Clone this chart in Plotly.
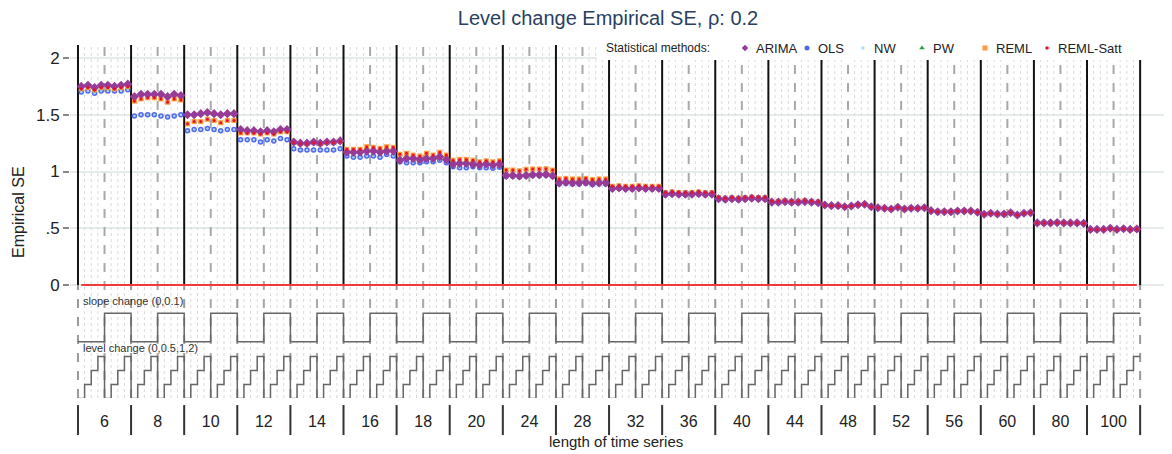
import plotly.graph_objects as go

# ---------------- data ----------------
lengths = [6, 8, 10, 12, 14, 16, 18, 20, 24, 28, 32, 36, 40, 44, 48, 52, 56, 60, 80, 100]
slope_changes = [0, 0.1]
level_changes = [0, 0.5, 1, 2]
length_labels = [str(n) for n in lengths]
y_tick_vals = [0, 0.5, 1, 1.5, 2]
y_tick_text = ["0", ".5", "1", "1.5", "2"]

arima = [
    1.75, 1.76, 1.74, 1.76, 1.76, 1.75, 1.76, 1.77,
    1.66, 1.68, 1.68, 1.68, 1.68, 1.66, 1.68, 1.67,
    1.50, 1.50, 1.51, 1.52, 1.51, 1.50, 1.51, 1.51,
    1.37, 1.36, 1.36, 1.35, 1.36, 1.35, 1.37, 1.37,
    1.26, 1.25, 1.25, 1.26, 1.25, 1.26, 1.26, 1.27,
    1.17, 1.17, 1.17, 1.18, 1.18, 1.17, 1.18, 1.18,
    1.10, 1.115, 1.115, 1.105, 1.115, 1.115, 1.13, 1.105,
    1.065, 1.07, 1.07, 1.063, 1.057, 1.066, 1.057, 1.063,
    0.966, 0.966, 0.96, 0.966, 0.972, 0.972, 0.975, 0.963,
    0.90, 0.905, 0.90, 0.90, 0.905, 0.895, 0.90, 0.90,
    0.85, 0.855, 0.85, 0.85, 0.855, 0.85, 0.85, 0.85,
    0.80, 0.805, 0.80, 0.80, 0.80, 0.805, 0.80, 0.80,
    0.76, 0.755, 0.76, 0.755, 0.76, 0.765, 0.76, 0.76,
    0.73, 0.73, 0.735, 0.73, 0.73, 0.735, 0.73, 0.725,
    0.705, 0.699, 0.699, 0.69, 0.696, 0.707, 0.711, 0.69,
    0.681, 0.676, 0.67, 0.685, 0.67, 0.676, 0.676, 0.681,
    0.655, 0.646, 0.646, 0.646, 0.652, 0.652, 0.652, 0.641,
    0.623, 0.632, 0.626, 0.626, 0.637, 0.617, 0.632, 0.637,
    0.547, 0.547, 0.547, 0.55, 0.547, 0.547, 0.547, 0.543,
    0.49, 0.49, 0.49, 0.50, 0.49, 0.496, 0.49, 0.493,
]

ols = [
    1.70, 1.71, 1.69, 1.71, 1.71, 1.71, 1.71, 1.72,
    1.49, 1.50, 1.50, 1.50, 1.49, 1.48, 1.49, 1.50,
    1.36, 1.37, 1.37, 1.38, 1.37, 1.36, 1.37, 1.37,
    1.28, 1.28, 1.28, 1.26, 1.28, 1.27, 1.29, 1.28,
    1.20, 1.19, 1.19, 1.19, 1.19, 1.19, 1.19, 1.20,
    1.137, 1.125, 1.125, 1.137, 1.137, 1.125, 1.15, 1.137,
    1.086, 1.077, 1.077, 1.077, 1.086, 1.086, 1.10, 1.077,
    1.042, 1.034, 1.034, 1.042, 1.034, 1.034, 1.028, 1.037,
    0.955, 0.958, 0.952, 0.96, 0.965, 0.962, 0.968, 0.955,
    0.89, 0.895, 0.89, 0.89, 0.895, 0.885, 0.89, 0.89,
    0.845, 0.85, 0.845, 0.845, 0.85, 0.845, 0.845, 0.845,
    0.795, 0.80, 0.795, 0.795, 0.795, 0.80, 0.795, 0.795,
    0.755, 0.75, 0.755, 0.75, 0.755, 0.76, 0.755, 0.755,
    0.727, 0.727, 0.732, 0.727, 0.727, 0.732, 0.727, 0.722,
    0.703, 0.697, 0.697, 0.688, 0.694, 0.705, 0.709, 0.688,
    0.679, 0.674, 0.668, 0.683, 0.668, 0.674, 0.674, 0.679,
    0.653, 0.644, 0.644, 0.644, 0.65, 0.65, 0.65, 0.639,
    0.621, 0.63, 0.624, 0.624, 0.635, 0.615, 0.63, 0.635,
    0.545, 0.545, 0.545, 0.548, 0.545, 0.545, 0.545, 0.541,
    0.489, 0.489, 0.489, 0.499, 0.489, 0.495, 0.489, 0.492,
]

nw = [
    1.70, 1.71, 1.69, 1.71, 1.71, 1.71, 1.71, 1.72,
    1.49, 1.50, 1.50, 1.50, 1.49, 1.48, 1.49, 1.50,
    1.36, 1.37, 1.37, 1.38, 1.37, 1.36, 1.37, 1.37,
    1.28, 1.28, 1.28, 1.26, 1.28, 1.27, 1.29, 1.28,
    1.20, 1.19, 1.19, 1.19, 1.19, 1.19, 1.19, 1.20,
    1.137, 1.125, 1.125, 1.137, 1.137, 1.125, 1.15, 1.137,
    1.086, 1.077, 1.077, 1.077, 1.086, 1.086, 1.10, 1.077,
    1.042, 1.034, 1.034, 1.042, 1.034, 1.034, 1.028, 1.037,
    0.955, 0.958, 0.952, 0.96, 0.965, 0.962, 0.968, 0.955,
    0.89, 0.895, 0.89, 0.89, 0.895, 0.885, 0.89, 0.89,
    0.845, 0.85, 0.845, 0.845, 0.85, 0.845, 0.845, 0.845,
    0.795, 0.80, 0.795, 0.795, 0.795, 0.80, 0.795, 0.795,
    0.755, 0.75, 0.755, 0.75, 0.755, 0.76, 0.755, 0.755,
    0.727, 0.727, 0.732, 0.727, 0.727, 0.732, 0.727, 0.722,
    0.703, 0.697, 0.697, 0.688, 0.694, 0.705, 0.709, 0.688,
    0.679, 0.674, 0.668, 0.683, 0.668, 0.674, 0.674, 0.679,
    0.653, 0.644, 0.644, 0.644, 0.65, 0.65, 0.65, 0.639,
    0.621, 0.63, 0.624, 0.624, 0.635, 0.615, 0.63, 0.635,
    0.545, 0.545, 0.545, 0.548, 0.545, 0.545, 0.545, 0.541,
    0.489, 0.489, 0.489, 0.499, 0.489, 0.495, 0.489, 0.492,
]

pw = [
    1.72, 1.73, 1.71, 1.73, 1.73, 1.72, 1.73, 1.74,
    1.62, 1.64, 1.65, 1.65, 1.64, 1.61, 1.64, 1.63,
    1.42, 1.44, 1.44, 1.46, 1.45, 1.43, 1.45, 1.45,
    1.34, 1.34, 1.34, 1.33, 1.34, 1.33, 1.35, 1.35,
    1.25, 1.24, 1.24, 1.25, 1.24, 1.25, 1.25, 1.26,
    1.19, 1.19, 1.19, 1.21, 1.21, 1.20, 1.21, 1.21,
    1.15, 1.155, 1.14, 1.135, 1.155, 1.14, 1.165, 1.14,
    1.095, 1.10, 1.10, 1.095, 1.08, 1.09, 1.08, 1.09,
    1.01, 1.01, 1.005, 1.015, 1.02, 1.02, 1.02, 1.01,
    0.93, 0.935, 0.93, 0.93, 0.935, 0.925, 0.93, 0.93,
    0.865, 0.87, 0.865, 0.865, 0.87, 0.865, 0.865, 0.865,
    0.81, 0.815, 0.81, 0.81, 0.81, 0.815, 0.81, 0.81,
    0.765, 0.76, 0.765, 0.76, 0.765, 0.77, 0.765, 0.765,
    0.735, 0.735, 0.74, 0.735, 0.735, 0.74, 0.735, 0.73,
    0.705, 0.699, 0.699, 0.69, 0.696, 0.707, 0.711, 0.69,
    0.681, 0.676, 0.67, 0.685, 0.67, 0.676, 0.676, 0.681,
    0.655, 0.646, 0.646, 0.646, 0.652, 0.652, 0.652, 0.641,
    0.623, 0.632, 0.626, 0.626, 0.637, 0.617, 0.632, 0.637,
    0.547, 0.547, 0.547, 0.55, 0.547, 0.547, 0.547, 0.543,
    0.49, 0.49, 0.49, 0.50, 0.49, 0.496, 0.49, 0.493,
]

reml = [
    1.73, 1.74, 1.72, 1.74, 1.74, 1.73, 1.74, 1.75,
    1.62, 1.64, 1.65, 1.65, 1.64, 1.61, 1.64, 1.63,
    1.42, 1.44, 1.44, 1.46, 1.45, 1.43, 1.45, 1.45,
    1.34, 1.34, 1.34, 1.33, 1.34, 1.33, 1.35, 1.35,
    1.255, 1.245, 1.245, 1.255, 1.245, 1.255, 1.255, 1.265,
    1.196, 1.196, 1.196, 1.219, 1.213, 1.204, 1.219, 1.213,
    1.152, 1.16, 1.145, 1.137, 1.16, 1.145, 1.17, 1.145,
    1.10, 1.107, 1.107, 1.10, 1.086, 1.095, 1.086, 1.095,
    1.013, 1.013, 1.007, 1.019, 1.022, 1.022, 1.025, 1.013,
    0.935, 0.94, 0.935, 0.935, 0.94, 0.93, 0.935, 0.935,
    0.87, 0.875, 0.87, 0.87, 0.875, 0.87, 0.87, 0.87,
    0.815, 0.82, 0.815, 0.815, 0.815, 0.82, 0.815, 0.815,
    0.77, 0.765, 0.77, 0.765, 0.77, 0.775, 0.77, 0.77,
    0.738, 0.738, 0.743, 0.738, 0.738, 0.743, 0.738, 0.733,
    0.705, 0.699, 0.699, 0.69, 0.696, 0.707, 0.711, 0.69,
    0.681, 0.676, 0.67, 0.685, 0.67, 0.676, 0.676, 0.681,
    0.655, 0.646, 0.646, 0.646, 0.652, 0.652, 0.652, 0.641,
    0.623, 0.632, 0.626, 0.626, 0.637, 0.617, 0.632, 0.637,
    0.547, 0.547, 0.547, 0.55, 0.547, 0.547, 0.547, 0.543,
    0.49, 0.49, 0.49, 0.50, 0.49, 0.496, 0.49, 0.493,
]

reml_satt = [
    1.73, 1.74, 1.72, 1.74, 1.74, 1.73, 1.74, 1.75,
    1.62, 1.64, 1.65, 1.65, 1.64, 1.61, 1.64, 1.63,
    1.42, 1.44, 1.44, 1.46, 1.45, 1.43, 1.45, 1.45,
    1.34, 1.34, 1.34, 1.33, 1.34, 1.33, 1.35, 1.35,
    1.255, 1.245, 1.245, 1.255, 1.245, 1.255, 1.255, 1.265,
    1.196, 1.196, 1.196, 1.219, 1.213, 1.204, 1.219, 1.213,
    1.152, 1.16, 1.145, 1.137, 1.16, 1.145, 1.17, 1.145,
    1.10, 1.107, 1.107, 1.10, 1.086, 1.095, 1.086, 1.095,
    1.013, 1.013, 1.007, 1.019, 1.022, 1.022, 1.025, 1.013,
    0.935, 0.94, 0.935, 0.935, 0.94, 0.93, 0.935, 0.935,
    0.87, 0.875, 0.87, 0.87, 0.875, 0.87, 0.87, 0.87,
    0.815, 0.82, 0.815, 0.815, 0.815, 0.82, 0.815, 0.815,
    0.77, 0.765, 0.77, 0.765, 0.77, 0.775, 0.77, 0.77,
    0.738, 0.738, 0.743, 0.738, 0.738, 0.743, 0.738, 0.733,
    0.705, 0.699, 0.699, 0.69, 0.696, 0.707, 0.711, 0.69,
    0.681, 0.676, 0.67, 0.685, 0.67, 0.676, 0.676, 0.681,
    0.655, 0.646, 0.646, 0.646, 0.652, 0.652, 0.652, 0.641,
    0.623, 0.632, 0.626, 0.626, 0.637, 0.617, 0.632, 0.637,
    0.547, 0.547, 0.547, 0.55, 0.547, 0.547, 0.547, 0.543,
    0.49, 0.49, 0.49, 0.50, 0.49, 0.496, 0.49, 0.493,
]

method_names = ["ARIMA", "OLS", "NW", "PW", "REML", "REML-Satt"]
method_values = [arima, ols, nw, pw, reml, reml_satt]
draw_order = ["OLS", "NW", "PW", "REML", "ARIMA", "REML-Satt"]

# ---------------- styles ----------------
method_styles = {
    "ARIMA": dict(symbol="diamond", size=7, color="#963C96"),
    "OLS": dict(symbol="circle", size=5.5, color="#5068EE"),
    "NW": dict(symbol="circle", size=2.5, color="#AFD8F5"),
    "PW": dict(symbol="triangle-up", size=5, color="#2E9E3E"),
    "REML": dict(symbol="square", size=5, color="#FF9A3C"),
    "REML-Satt": dict(symbol="circle", size=3, color="#E8112D"),
}
FONT = "Arial, Liberation Sans, sans-serif"

# figure geometry (page has an 8px body margin)
W, H = 1164, 446
ML, MR, MT, MB = 62, 2, 37, 56
PL, PR, PT, PB = ML, W - MR, MT, H - MB  # plot box in figure pixels
X_MIN, X_MAX = -1.2, 164.5
Y_TOP, Y_BOT = 2.115, -0.996


def px_to_x(px):
    return X_MIN + (px - PL) * (X_MAX - X_MIN) / (PR - PL)


def py_to_y(py):
    return Y_TOP - (py - PT) * (Y_TOP - Y_BOT) / (PB - PT)


# ---------------- design (nested loop) ----------------
n_s = len(slope_changes)
n_l = len(level_changes)
per_block = n_s * n_l
n_pts = len(lengths) * per_block
x_pts = [i + 0.5 for i in range(n_pts)]

slope_idx, level_idx = [], []
for n in lengths:
    for si, s in enumerate(slope_changes):
        for li, l in enumerate(level_changes):
            slope_idx.append(si)
            level_idx.append(li)

fig = go.Figure()

x_step = list(range(n_pts + 1))
slope_y = [-0.5 + 0.25 * k for k in slope_idx]
level_y = [-1.0 + 0.123 * k for k in level_idx]
fig.add_trace(go.Scatter(x=x_step, y=slope_y + [slope_y[-1]], mode="lines",
                         line=dict(shape="hv", color="#666666", width=1.5),
                         showlegend=False, hoverinfo="skip"))
fig.add_trace(go.Scatter(x=x_step, y=level_y + [level_y[-1]], mode="lines",
                         line=dict(shape="hv", color="#666666", width=1.5),
                         showlegend=False, hoverinfo="skip"))

fig.add_trace(go.Scatter(x=[x_pts[0], x_pts[-1]], y=[0, 0], mode="lines",
                         line=dict(color="#F03A3A", width=2),
                         showlegend=False, hoverinfo="skip"))

values_by_name = dict(zip(method_names, method_values))
for name in draw_order:
    st = method_styles[name]
    fig.add_trace(go.Scatter(
        x=x_pts, y=values_by_name[name], mode="markers", name=name, showlegend=False,
        marker=dict(symbol=st["symbol"], size=st["size"], color=st["color"], line=dict(width=0)),
    ))

# ---------------- custom legend (positions in figure pixels) ----------------
leg_py = 40
leg_title_px = 596
leg_marker_px = [737, 799, 855, 914, 977, 1039]
for name, mpx in zip(method_names, leg_marker_px):
    st = method_styles[name]
    fig.add_trace(go.Scatter(
        x=[px_to_x(mpx)], y=[py_to_y(leg_py)], mode="markers", showlegend=False,
        cliponaxis=False, hoverinfo="skip",
        marker=dict(symbol=st["symbol"], size=5 if name not in ("NW", "REML-Satt") else 3.5,
                    color=st["color"], line=dict(width=0)),
    ))

# ---------------- structure lines ----------------
shapes = []
for i in range(n_pts + 1):
    if i % per_block == 0:
        shapes.append(dict(type="line", xref="x", yref="y", x0=i, x1=i, y0=0, y1=Y_TOP,
                           line=dict(color="#111111", width=2), layer="between"))
        shapes.append(dict(type="line", xref="x", yref="y", x0=i, x1=i, y0=Y_BOT, y1=0,
                           line=dict(color="#9A9A9A", width=2, dash="dash"), layer="between"))
        shapes.append(dict(type="line", xref="x", yref="paper", x0=i, x1=i, y0=-0.02, y1=-0.105,
                           line=dict(color="#333333", width=2), layer="above"))
    elif i % n_l == 0:
        shapes.append(dict(type="line", xref="x", yref="y", x0=i, x1=i, y0=Y_BOT, y1=Y_TOP,
                           line=dict(color="#A8A8A8", width=2, dash="dash"), layer="between"))
    else:
        shapes.append(dict(type="line", xref="x", yref="y", x0=i, x1=i, y0=Y_BOT, y1=Y_TOP,
                           line=dict(color="#DADADA", width=1, dash="dot"), layer="between"))

# white legend background covering the structure lines
shapes.append(dict(type="rect", xref="x", yref="y",
                   x0=px_to_x(589), x1=X_MAX, y0=py_to_y(52), y1=Y_TOP,
                   fillcolor="white", line=dict(width=0), layer="between"))

block_centers = [b * per_block + per_block / 2 for b in range(len(lengths))]

annotations = [
    dict(text="slope change (0,0.1)", xref="x", yref="y", x=0.4, y=-0.14,
         xanchor="left", yanchor="middle", showarrow=False,
         font=dict(size=11, color="#333333")),
    dict(text="level change (0,0.5,1,2)", xref="x", yref="y", x=0.4, y=-0.555,
         xanchor="left", yanchor="middle", showarrow=False,
         font=dict(size=11, color="#333333")),
    dict(text="length of time series", xref="paper", yref="paper", x=0.496,
         y=-(433 - PB) / (PB - PT),
         xanchor="center", yanchor="middle", showarrow=False,
         font=dict(size=15, color="#222222")),
    dict(text="Empirical SE", xref="paper", yref="paper", x=(10 - PL) / (PR - PL),
         y=(PB - 204) / (PB - PT),
         xanchor="center", yanchor="middle", textangle=-90, showarrow=False,
         font=dict(size=16, color="#222222")),
    dict(text="Statistical methods:", xref="x", yref="y", x=px_to_x(leg_title_px), y=py_to_y(leg_py),
         xanchor="left", yanchor="middle", showarrow=False,
         font=dict(size=12, color="#222222")),
]
for name, mpx in zip(method_names, leg_marker_px):
    annotations.append(dict(text=name, xref="x", yref="y", x=px_to_x(mpx + 9), y=py_to_y(leg_py),
                            xanchor="left", yanchor="middle", showarrow=False,
                            font=dict(size=13, color="#222222")))

fig.update_layout(
    width=W, height=H,
    margin=dict(l=ML, r=MR, t=MT, b=MB),
    paper_bgcolor="white", plot_bgcolor="white",
    font=dict(family=FONT, color="#222222"),
    title=dict(text="Level change Empirical SE, ρ: 0.2", x=600 / W, xanchor="center",
               y=1 - 10 / H, yanchor="middle", yref="container",
               font=dict(size=20, color="#2a3f5f")),
    showlegend=False,
    shapes=shapes,
    annotations=annotations,
    xaxis=dict(range=[X_MIN, X_MAX], showgrid=False, zeroline=False, showline=False,
               tickvals=block_centers, ticktext=length_labels, ticks="",
               ticklabelstandoff=12, tickfont=dict(size=16, color="#222222")),
    yaxis=dict(range=[Y_BOT, Y_TOP], showgrid=True, gridcolor="#E4EBE8", gridwidth=1.5,
               zeroline=False, showline=False,
               tickvals=y_tick_vals, ticktext=y_tick_text, ticks="outside", ticklen=6,
               tickcolor="#888888", tickwidth=1.5, tickfont=dict(size=17, color="#222222")),
)

fig.write_html("out.html")
